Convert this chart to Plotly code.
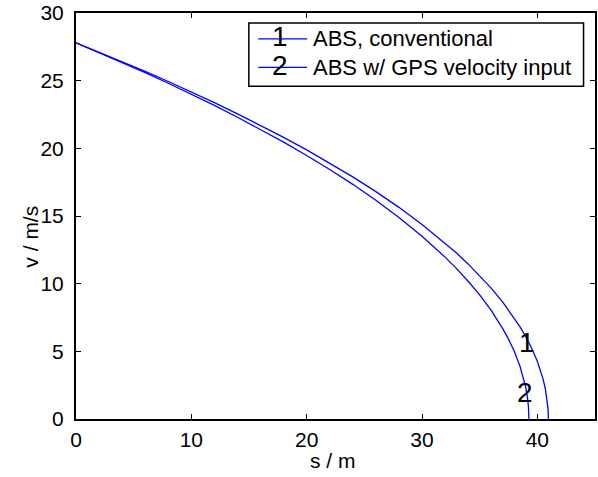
import plotly.graph_objects as go

# distance s [m] and velocity v [m/s]
s1 = [0, 2, 4, 6, 8, 10, 12, 14, 16, 18, 20, 22, 24, 26, 28, 30, 32, 33, 34, 35, 36, 37, 38, 38.5,
      39, 39.5, 40, 40.3, 40.5, 40.7, 40.85, 40.93, 40.96]
v1 = [27.8, 27.11, 26.41, 25.68, 24.94, 24.17, 23.38, 22.55, 21.70, 20.81, 19.89, 18.91, 17.89, 16.80,
      15.64, 14.38, 13.00, 12.26, 11.46, 10.60, 9.67, 8.64, 7.47, 6.81, 6.08, 5.25, 4.26, 3.53, 2.95,
      2.21, 1.44, 0.75, 0]
s2 = [0, 2, 4, 6, 8, 10, 12, 14, 16, 18, 20, 22, 24, 26, 28, 30, 32, 33, 34, 35, 36, 37, 37.5, 38,
      38.5, 38.8, 39.0, 39.15, 39.23, 39.27]
v2 = [27.8, 27.08, 26.35, 25.59, 24.81, 24.00, 23.17, 22.30, 21.40, 20.46, 19.47, 18.44, 17.34, 16.16,
      14.89, 13.51, 11.96, 11.11, 10.18, 9.17, 8.02, 6.68, 5.90, 5.00, 3.89, 3.04, 2.31, 1.54, 0.89, 0]
legend_labels = ["ABS, conventional", "ABS w/ GPS velocity input"]
curve_tags = ["1", "2"]
x_title = "s / m"
y_title = "v / m/s"

FONT = "Liberation Sans, Arial, sans-serif"
BLUE = "#0000ff"

fig = go.Figure()
fig.add_trace(go.Scatter(x=s1, y=v1, mode="lines", line=dict(color=BLUE, width=1.3), showlegend=False))
fig.add_trace(go.Scatter(x=s2, y=v2, mode="lines", line=dict(color=BLUE, width=1.3), showlegend=False))

# curve tags
fig.add_annotation(x=39.12, y=5.65, text=curve_tags[0], showarrow=False, font=dict(size=28, color="black", family=FONT))
fig.add_annotation(x=38.9, y=1.95, text=curve_tags[1], showarrow=False, font=dict(size=28, color="black", family=FONT))

# manual legend in paper coords
W, L, R, T, B = 598, 76, 1, 12, 58
pw = W - L - R
ph = 477 - T - B
def px(x):
    return (x - L) / pw
def py(y):
    return (477 - B - y) / ph

shapes = [dict(type="rect", xref="paper", yref="paper", x0=px(249.5), x1=px(585.5), y0=py(85.5), y1=py(22),
               line=dict(color="black", width=1.5), fillcolor="white", layer="above")]
rows = [38, 66.5]
for i, yy in enumerate(rows):
    shapes.append(dict(type="line", xref="paper", yref="paper", x0=px(259), x1=px(308), y0=py(yy), y1=py(yy),
                       line=dict(color=BLUE, width=1.3), layer="above"))
    fig.add_annotation(xref="paper", yref="paper", x=px(281), y=py(yy - 2), text=curve_tags[i], showarrow=False,
                       font=dict(size=28, color="black", family=FONT), xanchor="center", yanchor="middle")
    fig.add_annotation(xref="paper", yref="paper", x=px(312), y=py(yy), text=legend_labels[i], showarrow=False,
                       font=dict(size=22, color="black", family=FONT), xanchor="left", yanchor="middle")

# axis titles
fig.add_annotation(xref="paper", yref="paper", x=px(334), y=py(461), text=x_title, showarrow=False,
                   font=dict(size=21, color="black", family=FONT), xanchor="center", yanchor="middle")
fig.add_annotation(xref="paper", yref="paper", x=px(30), y=py(236), text=y_title, showarrow=False, textangle=-90,
                   font=dict(size=21, color="black", family=FONT), xanchor="center", yanchor="middle")

axis_common = dict(showline=True, linecolor="black", linewidth=2, mirror="ticks", ticks="inside",
                   ticklen=5, tickwidth=1, tickcolor="black", showgrid=False, zeroline=False,
                   tickfont=dict(size=21, color="black", family=FONT))
fig.update_layout(
    width=598, height=477,
    margin=dict(l=L, r=R, t=T, b=B),
    paper_bgcolor="white", plot_bgcolor="white",
    shapes=shapes,
    xaxis=dict(range=[0, 45], dtick=10, ticklabelstandoff=1, **axis_common),
    yaxis=dict(range=[0, 30], dtick=5, ticklabelstandoff=6, **axis_common),
)
fig.write_html("out.html")
